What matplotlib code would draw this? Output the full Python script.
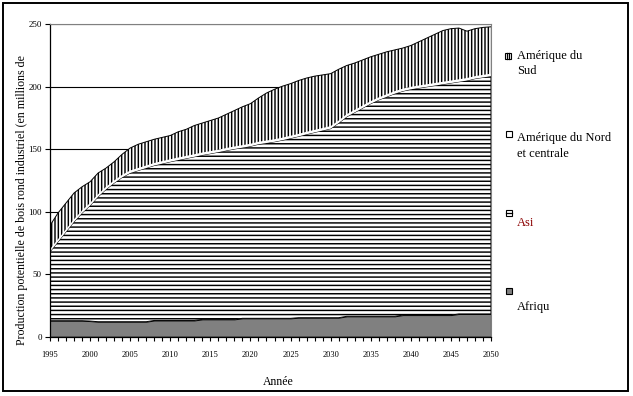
import numpy as np
import matplotlib
matplotlib.use("Agg")
import matplotlib.pyplot as plt
from matplotlib.patches import Rectangle
from matplotlib.lines import Line2D

plt.rcParams['font.family'] = ['Liberation Serif', 'DejaVu Serif']
plt.rcParams['hatch.linewidth'] = 1.05

# Data (millions de m3), one value per year 1995-2050
years = list(range(1995, 2051))

afrique = [12.8, 12.8, 12.8, 12.8, 12.8, 12.5, 12.0, 12.0, 12.0, 12.0,
           12.0, 12.0, 12.0, 13.0, 13.0, 13.0, 13.0, 13.0, 13.0, 13.9,
           13.9, 13.9, 13.9, 13.9, 14.7, 14.7, 14.7, 14.7, 14.7, 14.7,
           14.7, 15.2, 15.2, 15.2, 15.2, 15.2, 15.2, 16.3, 16.3, 16.3,
           16.3, 16.3, 16.3, 16.3, 17.3, 17.3, 17.3, 17.3, 17.3, 17.3,
           17.3, 18.2, 18.2, 18.2, 18.2, 18.2]

asie = [55.2, 63.2, 71.2, 79.2, 86.2, 92.5, 100.0, 106.0, 111.0, 115.5,
        119.0, 121.0, 123.0, 124.0, 125.5, 127.0, 128.4, 129.7, 131.0, 131.5,
        132.6, 133.8, 135.1, 136.3, 136.6, 137.7, 139.3, 140.3, 141.3, 142.6,
        144.1, 145.1, 146.8, 148.3, 149.8, 151.3, 155.8, 159.7, 163.2, 166.7,
        170.2, 173.2, 175.7, 178.2, 179.2, 180.7, 181.7, 182.7, 183.7, 184.7,
        185.7, 185.8, 186.8, 188.3, 189.3, 190.3]

amerique_nord = [2.0] * 56

amerique_sud = [19.0, 21.0, 21.0, 21.0, 19.0, 17.0, 17.0, 15.0, 15.0, 16.5,
                18.0, 19.0, 19.0, 19.0, 19.0, 19.0, 20.6, 21.3, 23.0, 23.6,
                24.5, 25.3, 27.0, 28.8, 30.7, 32.1, 35.0, 38.0, 40.0, 41.2,
                41.7, 42.7, 43.0, 43.0, 42.5, 42.0, 41.0, 39.0, 37.5, 36.5,
                35.5, 34.5, 34.0, 33.0, 32.5, 33.0, 35.0, 37.0, 39.0, 41.0,
                41.5, 41.0, 37.5, 38.0, 38.0, 37.5]

y_ticks = [0, 50, 100, 150, 200, 250]
x_labels = [str(y) if y % 5 == 0 else '' for y in years]

W, H = 633, 396
fig = plt.figure(figsize=(W / 100, H / 100), dpi=100)
ax = fig.add_axes([50 / W, 1 - 336.7 / H, 441 / W, 312.4 / H])

x = np.array(years)
b0 = np.zeros(len(x))
b1 = b0 + np.array(afrique)
b2 = b1 + np.array(asie)
b3 = b2 + np.array(amerique_nord)
b4 = b3 + np.array(amerique_sud)

ax.fill_between(x, b0, b1, facecolor='#808080', edgecolor='black', linewidth=0.7, zorder=2)
ax.fill_between(x, b1, b2, facecolor='white', edgecolor='black', hatch='----', linewidth=0.7, zorder=2)
ax.fill_between(x, b2, b3, facecolor='white', edgecolor='none', linewidth=0, zorder=2)
ax.fill_between(x, b3, b4, facecolor='white', edgecolor='black', hatch='|||||', linewidth=0, zorder=2)
ax.plot(x, b4, color='black', linewidth=0.7, zorder=3)
ax.plot([x[-1], x[-1]], [0, b4[-1]], color='black', linewidth=0.8, zorder=3)

ax.set_xlim(1995, 2050)
ax.set_ylim(0, 250)
ax.set_yticks(y_ticks)
ax.set_xticks(years)
ax.set_xticklabels(x_labels)
ax.yaxis.grid(True, color='black', linewidth=0.8)
ax.set_axisbelow(True)

ax.tick_params(axis='y', direction='out', length=3.5, width=0.8, labelsize=6.5, pad=2.5)
ax.tick_params(axis='x', direction='out', length=3, width=0.8, labelsize=6, pad=7)
for s in ['left', 'bottom']:
    ax.spines[s].set_color('black')
    ax.spines[s].set_linewidth(0.9)
ax.spines['top'].set_color('#808080')
ax.spines['right'].set_color('#808080')
ax.spines['top'].set_linewidth(0.8)
ax.spines['right'].set_linewidth(0.8)

# axis titles
fig.text(22 / W, 1 - 200 / H, 'Production potentielle de bois rond industriel (en millions de',
         rotation=90, ha='center', va='center', fontsize=8.6)
fig.text(278 / W, 1 - 382 / H, 'Année', ha='center', va='center', fontsize=8.5)


def px(xp, yp):
    return xp / W, 1 - yp / H


def marker(x0, y0, face='white'):
    r = Rectangle(px(x0, y0 + 6), 6 / W, 6 / H, transform=fig.transFigure,
                  facecolor=face, edgecolor='black', linewidth=0.8)
    fig.add_artist(r)


# legend (drawn by hand, Excel layout)
marker(505, 53)
for xl in (507.3, 509.3):
    fig.add_artist(Line2D([xl / W, xl / W], [1 - 53 / H, 1 - 59 / H],
                          transform=fig.transFigure, color='black', linewidth=0.9))
fig.text(517 / W, 1 - 55.5 / H, 'Amérique du', ha='left', va='center', fontsize=9)
fig.text(517 / W, 1 - 71 / H, 'Sud', ha='left', va='center', fontsize=9)

marker(505.5, 131)
fig.text(517 / W, 1 - 138.5 / H, 'Amérique du Nord', ha='left', va='center', fontsize=9)
fig.text(517 / W, 1 - 154 / H, 'et centrale', ha='left', va='center', fontsize=9)

marker(505.5, 210)
fig.add_artist(Line2D([505.5 / W, 511.5 / W], [1 - 213 / H, 1 - 213 / H],
                      transform=fig.transFigure, color='black', linewidth=0.9))
fig.text(517 / W, 1 - 223 / H, 'Asi', ha='left', va='center', fontsize=9, color='#8B0000')

marker(505.5, 288, face='#808080')
fig.text(517 / W, 1 - 307 / H, 'Afriqu', ha='left', va='center', fontsize=9)

# outer frame
fig.add_artist(Rectangle((3 / W, 1 - 391 / H), 625 / W, 388 / H, transform=fig.transFigure,
                         facecolor='none', edgecolor='black', linewidth=1.4))

fig.savefig('out.png', dpi=100)
